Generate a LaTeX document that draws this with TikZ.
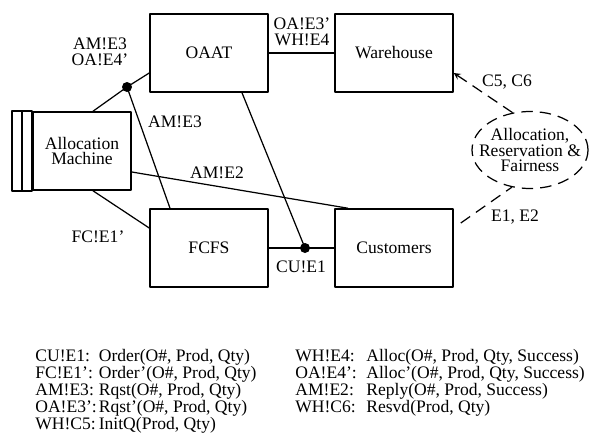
\documentclass[tikz,border=0pt]{standalone}
\usepackage{fontspec}
\setmainfont{Liberation Serif}
\usetikzlibrary{shapes.geometric}
\tikzset{
  box/.style={draw, line width=0.9pt, minimum width=2.36cm, minimum height=1.56cm, inner sep=0pt},
  junction/.style={circle, fill, inner sep=0pt, minimum size=0.2cm},
  wire/.style={line width=0.7pt},
  soft/.style={wire, dash pattern=on 6.5pt off 4pt},
  lbl/.style={align=center, inner sep=0pt},
}
\begin{document}
\begin{tikzpicture}[x=0.02cm, y=-0.02cm, font=\fontsize{10}{9}\selectfont, line join=round, >=stealth]
\useasboundingbox (0,0) rectangle (591,433);
% components
\node[box] (oaat) at (209,53) {OAAT};
\node[box] (wh) at (394,53) {Warehouse};
\node[box, minimum width=1.96cm, align=center] (am) at (82,151) {Allocation\\Machine};
\node[box] (fcfs) at (209,248) {FCFS};
\node[box] (cust) at (394,248) {Customers};
\draw[line width=0.9pt] ([xshift=-0.4cm]am.north west) rectangle (am.south west);
\draw[line width=0.9pt] ([xshift=-0.2cm]am.north west) -- ([xshift=-0.2cm]am.south west);
\node[ellipse, draw, soft, minimum width=2.32cm, minimum height=1.54cm, inner sep=0pt] (arf) at (530,150) {};
\node[lbl] (arftext) at (arf.center) {Allocation,\\Reservation \&\\Fairness};
% junctions
\node[junction] (jam) at (127,87) {};
\node[junction] (jcu) at (305,248) {};
% channels
\draw[wire] ([yshift=-0.4cm]oaat.west) -- (jam.center) -- ([xshift=0.22cm]am.north);
\draw[wire] (jam.center) -- ([xshift=-0.78cm]fcfs.north);
\draw[wire] ([yshift=-0.42cm]am.east) -- ([xshift=-0.92cm]cust.north);
\draw[wire] ([xshift=0.22cm]am.south) -- ([yshift=0.4cm]fcfs.west);
\draw[wire] ([xshift=0.66cm]oaat.south) -- (jcu.center);
\draw[wire] (fcfs.east) -- (jcu.center) -- (cust.west);
\draw[wire] (oaat.east) -- (wh.west);
\draw[soft, ->] (arf.115) -- ([yshift=-0.4cm]wh.east);
\draw[soft] ([xshift=0.14cm, yshift=0.5cm]cust.east) -- (arf.244);
% channel labels
\node[lbl] (lamoa) at (100,52) {AM!E3\\OA!E4'};
\node[lbl] (lam3) at (175,122) {AM!E3};
\node[lbl] (lam2) at (217,173) {AM!E2};
\node[lbl] (lfc) at (98,237) {FC!E1'};
\node[lbl] (lcu) at (301,267) {CU!E1};
\node[lbl] (loawh) at (302,32) {OA!E3'\\WH!E4};
\node[lbl] (lc56) at (507,82) {C5, C6};
\node[lbl] (le12) at (515,217) {E1, E2};
% legend
\node[inner sep=0pt, anchor=north west] (legl) at (35,349) {%
  \begin{tabular}{@{}p{1.27cm}@{}l@{}}
  CU!E1: & Order(O\#, Prod, Qty)\\
  FC!E1': & Order'(O\#, Prod, Qty)\\
  AM!E3: & Rqst(O\#, Prod, Qty)\\
  OA!E3': & Rqst'(O\#, Prod, Qty)\\
  WH!C5: & InitQ(Prod, Qty)
  \end{tabular}};
\node[inner sep=0pt, anchor=north west] (legr) at (295,349) {%
  \begin{tabular}{@{}p{1.42cm}@{}l@{}}
  WH!E4: & Alloc(O\#, Prod, Qty, Success)\\
  OA!E4': & Alloc'(O\#, Prod, Qty, Success)\\
  AM!E2: & Reply(O\#, Prod, Success)\\
  WH!C6: & Resvd(Prod, Qty)
  \end{tabular}};
\end{tikzpicture}
\end{document}
